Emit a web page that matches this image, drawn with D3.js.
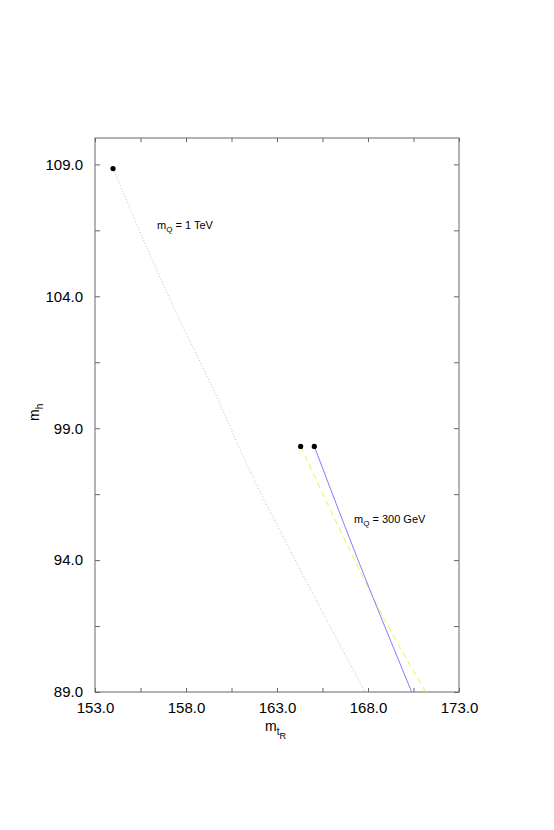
<!DOCTYPE html>
<html>
<head>
<meta charset="utf-8">
<script src="https://cdn.jsdelivr.net/npm/d3@7"></script>
<style>
  html, body { margin: 0; padding: 0; background: #fff; }
  svg { display: block; font-family: "Liberation Sans", Arial, Helvetica, sans-serif; }
</style>
</head>
<body>
<svg id="chart" width="554" height="830"></svg>
<script>
// ---- data ----
const xMajorTicks = [153, 158, 163, 168, 173];
const xMinorTicks = [155.5, 160.5, 165.5, 170.5];
const yMajorTicks = [89, 94, 99, 104, 109];
const yMinorTicks = [91.5, 96.5, 101.5, 106.5];

// m_Q = 1 TeV curve (dotted)
const curve1TeV = [
  [153.99, 108.84], [157.15, 103.84], [159.69, 100.19],
  [161.24, 97.78], [164.59, 93.23], [167.84, 89.0]
];
// m_Q = 300 GeV curves
const curve300Solid = [
  [165.05, 98.31], [167.46, 93.99], [170.40, 89.0]
];
const curve300Dashed = [
  [164.30, 98.31], [166.74, 94.75], [168.93, 91.72], [171.17, 89.0]
];
const endPoints = [
  [153.99, 108.84], [164.30, 98.31], [165.05, 98.31]
];

// ---- chart ----
const svg = d3.select("#chart");
const L = 95, R = 459, T = 138, B = 692;
const x = d3.scaleLinear().domain([153, 173]).range([L, R]);
const y = d3.scaleLinear().domain([89, 110]).range([B, T]);

const axisColor = "#666";
const fmt = d => xMajorTicks.includes(d) || yMajorTicks.includes(d) ? d3.format(".1f")(d) : "";

function styleAxis(g, showLabels) {
  g.select(".domain").remove();
  g.selectAll(".tick line").attr("stroke", axisColor).attr("stroke-width", 1);
  g.selectAll(".tick text").attr("fill", "#000").style("font-size", "15px")
    .style("display", showLabels ? null : "none");
}

const xTicks = xMajorTicks.concat(xMinorTicks);
const yTicks = yMajorTicks.concat(yMinorTicks);

svg.append("g").attr("transform", `translate(0,${B})`)
  .call(d3.axisBottom(x).tickValues(xTicks).tickFormat(fmt).tickSizeInner(-4).tickSizeOuter(0).tickPadding(10))
  .call(g => styleAxis(g, true));
svg.append("g").attr("transform", `translate(0,${T})`)
  .call(d3.axisTop(x).tickValues(xTicks).tickFormat(() => "").tickSizeInner(-4).tickSizeOuter(0))
  .call(g => styleAxis(g, false));
svg.append("g").attr("transform", `translate(${L},0)`)
  .call(d3.axisLeft(y).tickValues(yTicks).tickFormat(fmt).tickSizeInner(-5).tickSizeOuter(0).tickPadding(12))
  .call(g => styleAxis(g, true));
svg.append("g").attr("transform", `translate(${R},0)`)
  .call(d3.axisRight(y).tickValues(yTicks).tickFormat(() => "").tickSizeInner(-5).tickSizeOuter(0))
  .call(g => styleAxis(g, false));

svg.append("rect").attr("x", L).attr("y", T).attr("width", R - L).attr("height", B - T)
  .attr("fill", "none").attr("stroke", axisColor).attr("stroke-width", 1);

const line = d3.line().x(d => x(d[0])).y(d => y(d[1])).curve(d3.curveMonotoneY);

svg.append("path").datum(curve1TeV).attr("d", line)
  .attr("fill", "none").attr("stroke", "#d8b4b4").attr("stroke-width", 1)
  .attr("stroke-dasharray", "1,2");
svg.append("path").datum(curve300Dashed).attr("d", line)
  .attr("fill", "none").attr("stroke", "#f4f040").attr("stroke-width", 1)
  .attr("stroke-dasharray", "6,4");
svg.append("path").datum(curve300Solid).attr("d", line)
  .attr("fill", "none").attr("stroke", "#8080ff").attr("stroke-width", 1);

svg.selectAll("circle.pt").data(endPoints).enter().append("circle")
  .attr("class", "pt")
  .attr("cx", d => x(d[0])).attr("cy", d => y(d[1])).attr("r", 2.6).attr("fill", "#000");

// annotations
function mLabel(xp, yp, rest) {
  const t = svg.append("text").attr("x", xp).attr("y", yp).style("font-size", "11px").attr("fill", "#000");
  t.append("tspan").text("m");
  t.append("tspan").attr("dy", 3).style("font-size", "8px").text("Q");
  t.append("tspan").attr("dy", -3).text(" = " + rest);
}
mLabel(157, 229, "1 TeV");
mLabel(354, 523, "300 GeV");

// axis titles
const xt = svg.append("text").attr("x", 265).attr("y", 731).style("font-size", "14px").attr("fill", "#000");
xt.append("tspan").text("m");
xt.append("tspan").attr("dy", 4).style("font-size", "10px").text("t");
xt.append("tspan").attr("dy", 4).style("font-size", "9px").text("R");

const yt = svg.append("text").attr("transform", "translate(39,421) rotate(-90)").style("font-size", "14px").attr("fill", "#000");
yt.append("tspan").text("m");
yt.append("tspan").attr("dy", 4).style("font-size", "10px").text("h");
</script>
</body>
</html>
